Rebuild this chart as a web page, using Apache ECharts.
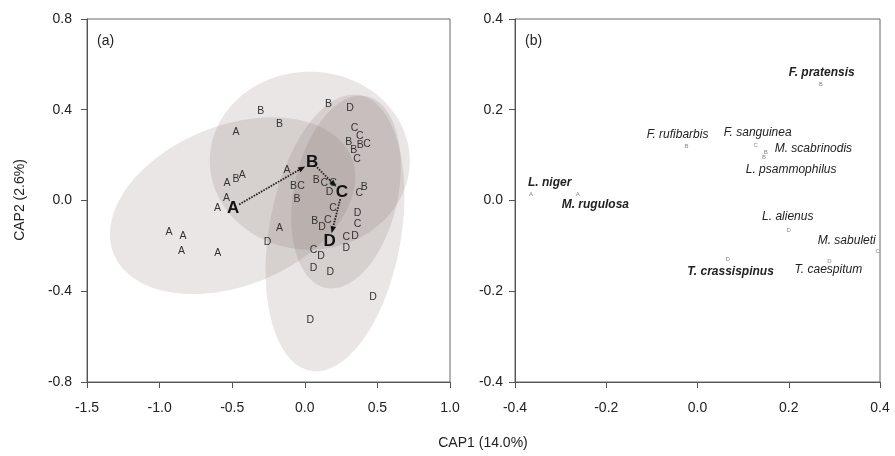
<!DOCTYPE html>
<html><head><meta charset="utf-8">
<script src="https://cdn.jsdelivr.net/npm/echarts@6/dist/echarts.min.js"></script>
<style>html,body{margin:0;padding:0;background:#fff}#c{width:895px;height:456px}</style>
</head><body><div id="c"></div>
<script>
// ---------- Panel (a): CAP site scores ----------
const groups = ['A', 'B', 'C', 'D'];
const sitesA = [[-0.474,0.303],[-0.536,0.077],[-0.430,0.114],[-0.540,0.011],[-0.602,-0.033],[-0.935,-0.140],[-0.839,-0.158],[-0.850,-0.225],[-0.600,-0.231],[-0.123,0.132],[-0.175,-0.123]];
const sitesB = [[-0.304,0.395],[-0.175,0.336],[0.164,0.425],[0.302,0.259],[0.337,0.220],[0.382,0.245],[-0.077,0.063],[0.079,0.092],[-0.054,0.004],[0.410,0.057],[0.068,-0.090],[-0.474,0.095]];
const sitesC = [[0.343,0.318],[0.378,0.283],[0.428,0.248],[0.360,0.182],[-0.026,0.065],[0.135,0.077],[0.376,0.033],[0.194,-0.032],[0.158,-0.087],[0.364,-0.103],[0.286,-0.162],[0.061,-0.217],[0.194,0.077]];
const sitesD = [[0.311,0.406],[0.171,0.036],[0.364,-0.056],[0.118,-0.118],[-0.256,-0.184],[0.346,-0.158],[0.286,-0.208],[0.112,-0.246],[0.061,-0.299],[0.176,-0.317],[0.470,-0.427],[0.038,-0.527]];
const centroids = [[-0.494,-0.033],[0.050,0.168],[0.256,0.036],[0.171,-0.178]];
// ellipse: centre x, centre y, semi-axis 1 (dx, dy), semi-axis 2 (dx, dy) in data units
const ellipseA = [-0.497,-0.023, 0.8193,0.2118, 0.2064,-0.3269];
const ellipseB = [0.034,0.1755, 0.6887,0, 0,0.3922];
const ellipseC = [0.284,0.0375, 0.1403,0.4225, 0.3503,-0.0476];
const ellipseD = [0.208,-0.143, 0.1674,0.6076, 0.4477,-0.0505];
const xTicksA = [-1.5, 1.0, 0.5];   // min, max, interval
const yTicksA = [-0.8, 0.8, 0.4];

// ---------- Panel (b): species scores ----------
const species = ['F. pratensis','F. rufibarbis','F. sanguinea','M. scabrinodis','L. psammophilus','L. niger','M. rugulosa','L. alienus','M. sabuleti','T. crassispinus','T. caespitum'];
const speciesGroup = ['B','B','C','B','B','A','A','D','C','D','D'];
const speciesX = [0.270,-0.024,0.1275,0.1495,0.146,-0.365,-0.2626,0.200,0.395,0.066,0.289];
const speciesY = [0.256,0.119,0.122,0.107,0.095,0.0143,0.0128,-0.0665,-0.111,-0.130,-0.133];
const speciesBold = [true,false,false,false,false,true,true,false,false,true,false];
const xTicksB = [-0.4, 0.4, 0.2];
const yTicksB = [-0.4, 0.4, 0.2];

// label layout (align, dx, dy) in pixels relative to the marker
const labelLayout = [['center',1,-12],['center',-9,-12],['center',2,-12],['left',9,-3],['center',27,12],['left',-3,-11],['left',-16,10],['center',-1,-14],['right',-2,-10],['center',3,12],['center',-1,9]];

const FONT = '"Liberation Sans", Arial, Helvetica, sans-serif';
const chart = echarts.init(document.getElementById('c'));

const siteData = [];
[sitesA, sitesB, sitesC, sitesD].forEach((arr, g) => arr.forEach(p => siteData.push([p[0], p[1], g])));
const centroidData = centroids.map((p, g) => [p[0], p[1], g]);
const arrowData = [];
for (let i = 0; i < centroids.length - 1; i++) arrowData.push([centroids[i][0], centroids[i][1], centroids[i+1][0], centroids[i+1][1]]);
const speciesData = species.map((s, i) => [speciesX[i], speciesY[i], i]);

function axisCommon(t, margin) {
  return {
    min: t[0], max: t[1], interval: t[2],
    axisLine: { show: true, onZero: false, lineStyle: { color: '#555', width: 1 } },
    axisTick: { show: true, length: 6, lineStyle: { color: '#555' } },
    axisLabel: { fontSize: 14, color: '#222', fontFamily: FONT, margin: margin, formatter: v => (Math.abs(v) < 1e-9 ? 0 : v).toFixed(1) },
    splitLine: { show: false }
  };
}

chart.setOption({
  animation: false,
  backgroundColor: '#fff',
  grid: [
    { left: 87, top: 19, width: 363, height: 363, show: true, borderColor: '#666', borderWidth: 1, backgroundColor: 'transparent' },
    { left: 515, top: 19, width: 365, height: 363, show: true, borderColor: '#666', borderWidth: 1, backgroundColor: 'transparent' }
  ],
  xAxis: [
    Object.assign({ type: 'value', gridIndex: 0 }, axisCommon(xTicksA, 19)),
    Object.assign({ type: 'value', gridIndex: 1 }, axisCommon(xTicksB, 19))
  ],
  yAxis: [
    Object.assign({ type: 'value', gridIndex: 0 }, axisCommon(yTicksA, 15)),
    Object.assign({ type: 'value', gridIndex: 1 }, axisCommon(yTicksB, 12))
  ],
  graphic: [
    { type: 'text', left: 97, top: 34, style: { text: '(a)', font: '14px ' + FONT, fill: '#222' } },
    { type: 'text', left: 525, top: 34, style: { text: '(b)', font: '14px ' + FONT, fill: '#222' } },
    { type: 'text', x: 20, y: 200, rotation: Math.PI / 2, style: { text: 'CAP2 (2.6%)', font: '14px ' + FONT, fill: '#222', align: 'center', verticalAlign: 'middle' } },
    { type: 'text', x: 483, y: 443, style: { text: 'CAP1 (14.0%)', font: '14px ' + FONT, fill: '#222', align: 'center', verticalAlign: 'middle' } }
  ],
  series: [
    {
      type: 'custom', xAxisIndex: 0, yAxisIndex: 0, z: 1,
      data: [ellipseA, ellipseB, ellipseC, ellipseD],
      renderItem: function (params, api) {
        const cx = api.value(0), cy = api.value(1), ax = api.value(2), ay = api.value(3), bx = api.value(4), by = api.value(5);
        const pts = [];
        for (let i = 0; i < 120; i++) {
          const t = 2 * Math.PI * i / 120;
          pts.push(api.coord([cx + ax * Math.cos(t) + bx * Math.sin(t), cy + ay * Math.cos(t) + by * Math.sin(t)]));
        }
        return { type: 'polygon', shape: { points: pts }, style: { fill: 'rgba(122,108,102,0.17)' } };
      }
    },
    {
      type: 'custom', xAxisIndex: 0, yAxisIndex: 0, z: 3,
      data: arrowData,
      renderItem: function (params, api) {
        const p1 = api.coord([api.value(0), api.value(1)]);
        const p2 = api.coord([api.value(2), api.value(3)]);
        const dx = p2[0] - p1[0], dy = p2[1] - p1[1];
        const L = Math.sqrt(dx * dx + dy * dy);
        const ux = dx / L, uy = dy / L, nx = -uy, ny = ux;
        const s = [p1[0] + ux * 7, p1[1] + uy * 7];
        const e = [p2[0] - ux * 8, p2[1] - uy * 8];
        const hb = [e[0] - ux * 7, e[1] - uy * 7];
        return {
          type: 'group', children: [
            { type: 'line', shape: { x1: s[0], y1: s[1], x2: hb[0], y2: hb[1] }, style: { stroke: '#222', lineWidth: 1.8, lineDash: [1.6, 1.2] } },
            { type: 'polygon', shape: { points: [e, [hb[0] + nx * 2.8, hb[1] + ny * 2.8], [hb[0] - nx * 2.8, hb[1] - ny * 2.8]] }, style: { fill: '#111' } }
          ]
        };
      }
    },
    {
      type: 'custom', xAxisIndex: 0, yAxisIndex: 0, z: 4,
      data: siteData,
      renderItem: function (params, api) {
        const p = api.coord([api.value(0), api.value(1)]);
        return { type: 'text', x: p[0], y: p[1], style: { text: groups[api.value(2)], font: '10.5px ' + FONT, fill: '#333', align: 'center', verticalAlign: 'middle' } };
      }
    },
    {
      type: 'custom', xAxisIndex: 0, yAxisIndex: 0, z: 5,
      data: centroidData,
      renderItem: function (params, api) {
        const p = api.coord([api.value(0), api.value(1)]);
        return { type: 'text', x: p[0], y: p[1], style: { text: groups[api.value(2)], font: 'bold 17px ' + FONT, fill: '#111', align: 'center', verticalAlign: 'middle' } };
      }
    },
    {
      type: 'custom', xAxisIndex: 1, yAxisIndex: 1, z: 4,
      data: speciesData,
      renderItem: function (params, api) {
        const p = api.coord([api.value(0), api.value(1)]);
        const i = api.value(2);
        const lay = labelLayout[i];
        return {
          type: 'group', children: [
            { type: 'text', x: p[0], y: p[1], style: { text: speciesGroup[i], font: '6px ' + FONT, fill: '#888', align: 'center', verticalAlign: 'middle' } },
            { type: 'text', x: p[0] + lay[1], y: p[1] + lay[2], style: { text: species[i], font: 'italic ' + (speciesBold[i] ? 'bold ' : '') + '12px ' + FONT, fill: '#222', align: lay[0], verticalAlign: 'middle' } }
          ]
        };
      }
    }
  ]
});
</script></body></html>
